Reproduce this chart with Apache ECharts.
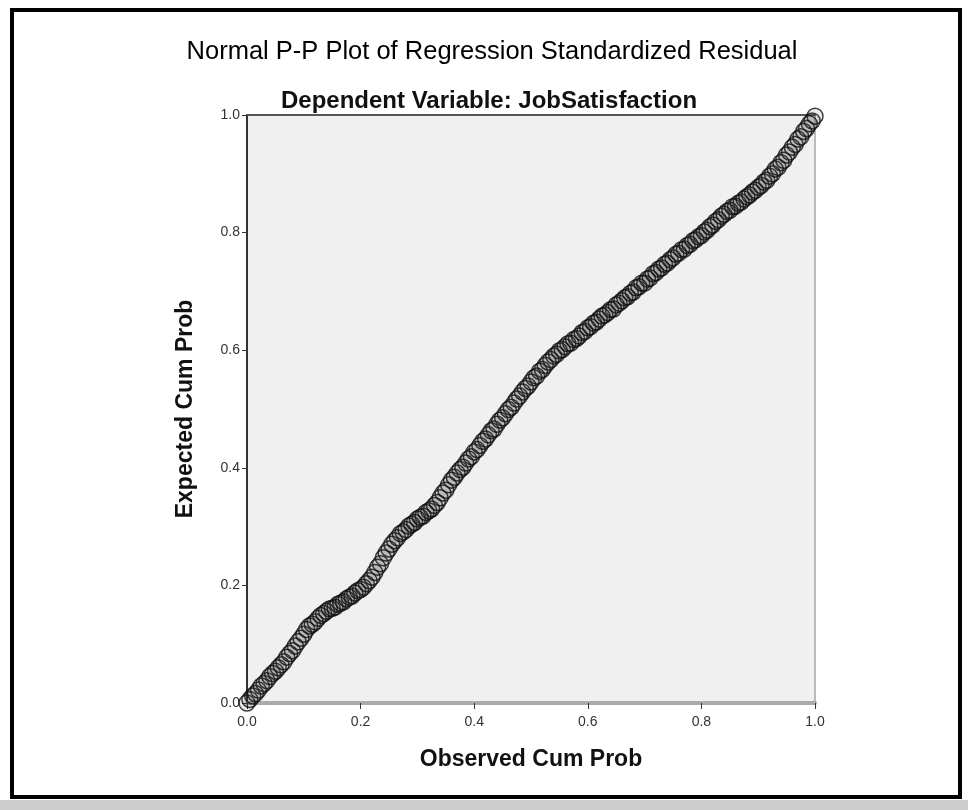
<!DOCTYPE html>
<html>
<head>
<meta charset="utf-8">
<script src="https://cdn.jsdelivr.net/npm/echarts@6/dist/echarts.min.js"></script>
<style>
html,body{margin:0;padding:0;background:#fff;}
#chart{width:968px;height:810px;}
</style>
</head>
<body>
<div id="chart"></div>
<script>
const chartTitle = 'Normal P-P Plot of Regression Standardized Residual';
const chartSubtitle = 'Dependent Variable: JobSatisfaction';
const xAxisName = 'Observed Cum Prob';
const yAxisName = 'Expected Cum Prob';
const tickValues = [0, 0.2, 0.4, 0.6, 0.8, 1.0];

const observedCumProb = [
0,.005,.01,.015,.02,.025,.03,.035,.04,.045,
.05,.055,.06,.065,.07,.075,.08,.085,.09,.095,
.1,.105,.11,.115,.12,.125,.13,.135,.14,.145,
.15,.155,.16,.165,.17,.175,.18,.185,.19,.195,
.2,.205,.21,.215,.22,.225,.23,.235,.24,.245,
.25,.255,.26,.265,.27,.275,.28,.285,.29,.295,
.3,.305,.31,.315,.32,.325,.33,.335,.34,.345,
.35,.355,.36,.365,.37,.375,.38,.385,.39,.395,
.4,.405,.41,.415,.42,.425,.43,.435,.44,.445,
.45,.455,.46,.465,.47,.475,.48,.485,.49,.495,
.5,.505,.51,.515,.52,.525,.53,.535,.54,.545,
.55,.555,.56,.565,.57,.575,.58,.585,.59,.595,
.6,.605,.61,.615,.62,.625,.63,.635,.64,.645,
.65,.655,.66,.665,.67,.675,.68,.685,.69,.695,
.7,.705,.71,.715,.72,.725,.73,.735,.74,.745,
.75,.755,.76,.765,.77,.775,.78,.785,.79,.795,
.8,.805,.81,.815,.82,.825,.83,.835,.84,.845,
.85,.855,.86,.865,.87,.875,.88,.885,.89,.895,
.9,.905,.91,.915,.92,.925,.93,.935,.94,.945,
.95,.955,.96,.965,.97,.975,.98,.985,.99,.995,
1
];

const expectedCumProb = [
.000,.006,.012,.016,.022,.029,.033,.038,.045,.050,
.054,.060,.065,.070,.078,.084,.089,.097,.104,.110,
.117,.125,.131,.134,.138,.144,.149,.152,.156,.160,
.161,.163,.168,.170,.172,.177,.180,.182,.187,.191,
.193,.197,.203,.208,.214,.222,.231,.237,.247,.255,
.262,.270,.276,.281,.288,.291,.295,.301,.304,.307,
.313,.316,.318,.324,.327,.330,.336,.341,.349,.357,
.362,.371,.379,.384,.391,.397,.401,.408,.415,.419,
.427,.431,.438,.445,.449,.456,.463,.466,.474,.481,
.485,.492,.499,.503,.510,.517,.522,.529,.535,.539,
.546,.553,.556,.564,.567,.574,.580,.584,.590,.593,
.599,.601,.606,.611,.612,.618,.620,.624,.630,.632,
.638,.640,.646,.648,.653,.658,.660,.664,.669,.670,
.677,.680,.684,.689,.691,.697,.699,.706,.708,.714,
.714,.721,.723,.730,.732,.738,.740,.746,.748,.754,
.757,.763,.765,.771,.772,.778,.780,.786,.788,.793,
.795,.801,.804,.810,.813,.819,.822,.828,.831,.836,
.838,.844,.845,.850,.852,.857,.861,.864,.869,.872,
.877,.880,.886,.889,.896,.900,.908,.911,.919,.923,
.932,.937,.945,.950,.959,.963,.972,.977,.985,.990,
.998
];

const points = observedCumProb.map((x, i) => [x, expectedCumProb[i]]);

const chart = echarts.init(document.getElementById('chart'), null, {renderer: 'canvas'});
const FONT = 'Liberation Sans, Arial, sans-serif';

chart.setOption({
  backgroundColor: '#ffffff',
  animation: false,
  title: [
    {text: chartTitle, left: 487, top: 34, textAlign: 'center',
     textStyle: {fontSize: 25.5, fontWeight: 'normal', fontFamily: FONT, color: '#000'}},
    {text: chartSubtitle, left: 484, top: 84, textAlign: 'center',
     textStyle: {fontSize: 24, fontWeight: 'bold', fontFamily: FONT, color: '#111'}}
  ],
  graphic: [
    {type: 'rect', shape: {x: 12, y: 10, width: 948, height: 787},
     style: {fill: 'none', stroke: '#000', lineWidth: 4}, z: 100},
    {type: 'rect', shape: {x: 0, y: 800, width: 968, height: 10},
     style: {fill: '#cdcdcd'}, z: 100}
  ],
  grid: {left: 247, top: 115, width: 568, height: 588, show: true,
         backgroundColor: '#f0f0f0', borderWidth: 0},
  xAxis: [
    {type: 'value', min: 0, max: 1, interval: 0.2, position: 'bottom',
     name: xAxisName, nameLocation: 'middle', nameGap: 45,
     nameTextStyle: {fontSize: 23, fontWeight: 'bold', fontFamily: FONT, color: '#111'},
     axisLine: {show: true, onZero: false, lineStyle: {color: '#aaaaaa', width: 4}},
     axisTick: {show: true, length: 6, lineStyle: {color: '#333', width: 1}},
     axisLabel: {fontSize: 14, color: '#333', fontFamily: FONT, margin: 12,
                 formatter: v => v.toFixed(1)},
     splitLine: {show: false}},
    {type: 'value', min: 0, max: 1, interval: 0.2, position: 'top',
     axisLine: {show: true, onZero: false, lineStyle: {color: '#555', width: 2}},
     axisTick: {show: false}, axisLabel: {show: false}, splitLine: {show: false}}
  ],
  yAxis: [
    {type: 'value', min: 0, max: 1, interval: 0.2, position: 'left',
     name: yAxisName, nameLocation: 'middle', nameGap: 50, nameRotate: 90,
     nameTextStyle: {fontSize: 23, fontWeight: 'bold', fontFamily: FONT, color: '#111'},
     axisLine: {show: true, onZero: false, lineStyle: {color: '#333', width: 2}},
     axisTick: {show: true, length: 5, lineStyle: {color: '#333', width: 1}},
     axisLabel: {fontSize: 14, color: '#333', fontFamily: FONT, margin: 7,
                 formatter: v => v.toFixed(1)},
     splitLine: {show: false}},
    {type: 'value', min: 0, max: 1, interval: 0.2, position: 'right',
     axisLine: {show: true, onZero: false, lineStyle: {color: '#bbbbbb', width: 2}},
     axisTick: {show: false}, axisLabel: {show: false}, splitLine: {show: false}}
  ],
  series: [{
    type: 'scatter',
    data: points,
    xAxisIndex: 0, yAxisIndex: 0,
    clip: false,
    symbol: 'circle',
    symbolSize: 16,
    itemStyle: {color: 'rgba(40,40,40,0.12)', borderColor: '#111', borderWidth: 1.5},
    emphasis: {disabled: true}
  }]
});
</script>
</body>
</html>
